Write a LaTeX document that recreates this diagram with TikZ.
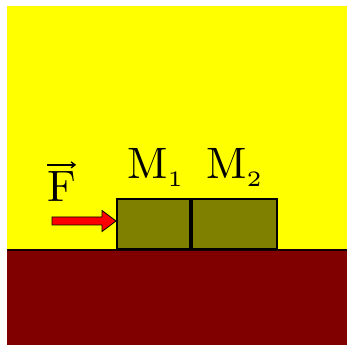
\documentclass[tikz,border=0pt]{standalone}
\usepackage{graphicx}
\usepackage{tikz}
\usetikzlibrary{arrows.meta, positioning, calc}
\definecolor{skyYellow}{HTML}{FFFF00}
\definecolor{groundRed}{HTML}{800000}
\definecolor{blockOlive}{HTML}{808000}
\definecolor{forceRed}{HTML}{FF0000}
\newcommand{\bigsub}[2]{\scalebox{4.4}{#1\raisebox{-1.8pt}{\fontsize{5}{5}\selectfont #2}}}

\begin{document}
\begin{tikzpicture}[x=1pt, y=1pt,
  block/.style={draw=black, fill=blockOlive, line width=2pt, inner sep=0pt,
                minimum height=50pt, anchor=south west},
  lbl/.style={font=\normalsize, inner sep=0pt, anchor=base west},
  forcearrow/.style={draw=black, fill=forceRed, line width=0.8pt, line join=miter},
]
  \def\xl{7}\def\xr{347}\def\yg{95}\def\yt{339}
  \useasboundingbox (0,0) rectangle (347,345);
  \fill[white] (0,0) rectangle (347,345);
  \fill[skyYellow] (\xl,0) rectangle (\xr,\yt);
  \fill[groundRed] (\xl,0) rectangle (\xr,\yg);
  \draw[line width=1.2pt, black!80!groundRed] (\xl,\yg) -- (\xr,\yg);
  \node[block, minimum width=73pt] (m1box) at (116,\yg) {};
  \node[block, minimum width=85pt] (m2box) at (191,\yg) {};
  \node[lbl] (m1lbl) at (127,166) {\bigsub{M}{1}};
  \node[lbl] (m2lbl) at (206,166) {\bigsub{M}{2}};
  \node[lbl] (flbl) at (47,143) {\scalebox{4.4}{F}};
  \draw[line width=1.3pt, -{Straight Barb[length=4pt, width=6pt]}]
    ([yshift=7pt]flbl.north west) -- ([yshift=7pt]flbl.north east);
  \draw[forcearrow] ([yshift=3pt]m1box.west) -- ++(-14,10.5) -- ++(0,-6.5) -- ++(-50,0)
    -- ++(0,-8) -- ++(50,0) -- ++(0,-6.5) -- cycle;
\end{tikzpicture}
\end{document}
